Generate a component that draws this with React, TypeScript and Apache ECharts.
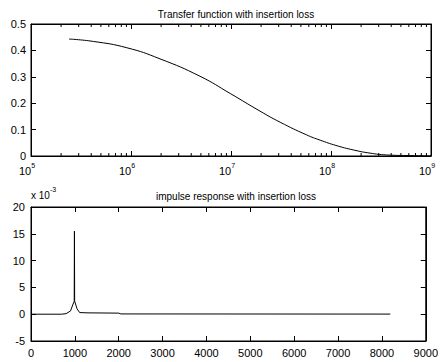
import React, { useEffect, useRef } from "react";
import * as echarts from "echarts";

const titleTop = "Transfer function with insertion loss";
const titleBottom = "impulse response with insertion loss";

// Top: transfer function magnitude vs frequency (Hz)
const freqHz = [2.4e5, 4.2e5, 9.1e5, 1.95e6, 4.9e6, 9.8e6, 1.95e7, 3.1e7, 5.7e7, 7.8e7, 1.12e8, 1.67e8, 2.45e8, 3.6e8, 6.3e8, 1e9];
const transferMag = [0.443, 0.434, 0.41, 0.368, 0.302, 0.237, 0.17, 0.128, 0.08, 0.06, 0.04, 0.023, 0.011, 0.004, 0.0015, 0.0005];

// Bottom: impulse response (units of 1e-3) vs sample index
const sampleIdx = [0, 700, 800, 900, 960, 985, 990, 995, 1000, 1050, 1110, 1300, 2000, 2050, 8192];
const impulseVal = [0, 0, 0.1, 0.6, 1.9, 2.4, 15.5, 2.5, 2.3, 1.0, 0.3, 0.25, 0.2, 0.05, 0.02];

const topYTicks = [0, 0.1, 0.2, 0.3, 0.4, 0.5];
const bottomYTicks = [-5, 0, 5, 10, 15, 20];
const decades = [5, 6, 7, 8];
const mantissas = [2, 3, 4, 5, 6, 7, 8, 9];

const FONT = "'Liberation Sans', Arial, Helvetica, sans-serif";

export default function App() {
  const ref = useRef<HTMLDivElement>(null);

  useEffect(() => {
    if (!ref.current) return;
    const chart = echarts.init(ref.current, undefined, { renderer: "svg" });

    const minorTicks: number[][] = [];
    decades.forEach((d) => mantissas.forEach((m) => minorTicks.push([m * Math.pow(10, d), 0])));

    const grids = [
      { left: 31, top: 24, width: 400, height: 132, show: true, borderColor: "#000", borderWidth: 1, backgroundColor: "transparent" },
      { left: 31, top: 207, width: 400, height: 134, show: true, borderColor: "#000", borderWidth: 1, backgroundColor: "transparent" },
    ];

    const axisLine = { show: true, onZero: false, lineStyle: { color: "#000", width: 1 } };
    const tick = { show: true, inside: true, length: 5, lineStyle: { color: "#000", width: 1 } };
    const label = { color: "#000", fontFamily: FONT, fontSize: 11 };

    const option: any = {
      animation: false,
      backgroundColor: "#fff",
      title: [
        { text: titleTop, left: 231, top: 4, textAlign: "center", textStyle: { fontFamily: FONT, fontSize: 10, fontWeight: "normal", color: "#000" } },
        { text: titleBottom, left: 231, top: 186, textAlign: "center", textStyle: { fontFamily: FONT, fontSize: 10, fontWeight: "normal", color: "#000" } },
      ],
      grid: grids,
      xAxis: [
        {
          type: "log", logBase: 10, gridIndex: 0, min: 1e5, max: 1e9, splitNumber: 4,
          axisLine, axisTick: tick, splitLine: { show: false },
          axisLabel: {
            ...label, margin: 6, showMinLabel: true, showMaxLabel: true, padding: [0, 8, 0, 0],
            formatter: (v: number) => `{b|10}{s|${Math.round(Math.log10(v))}}`,
            rich: {
              b: { fontFamily: FONT, fontSize: 11, color: "#000", lineHeight: 14, verticalAlign: "bottom" },
              s: { fontFamily: FONT, fontSize: 7, color: "#000", lineHeight: 8, verticalAlign: "top" },
            },
          },
        },
        {
          type: "log", logBase: 10, gridIndex: 0, min: 1e5, max: 1e9, splitNumber: 4, position: "top",
          axisLine, axisTick: tick, axisLabel: { show: false }, splitLine: { show: false },
        },
        {
          type: "value", gridIndex: 1, min: 0, max: 9000, interval: 1000,
          axisLine, axisTick: tick, splitLine: { show: false },
          axisLabel: { ...label, margin: 6, showMinLabel: true, showMaxLabel: true, formatter: (v: number) => String(v) },
        },
        {
          type: "value", gridIndex: 1, min: 0, max: 9000, interval: 1000, position: "top",
          axisLine, axisTick: tick, axisLabel: { show: false }, splitLine: { show: false },
        },
      ],
      yAxis: [
        {
          type: "value", gridIndex: 0, min: topYTicks[0], max: topYTicks[topYTicks.length - 1], interval: 0.1,
          axisLine, axisTick: tick, splitLine: { show: false },
          axisLabel: { ...label, margin: 5, formatter: (v: number) => (v === 0 ? "0" : v.toFixed(1)) },
        },
        {
          type: "value", gridIndex: 0, min: 0, max: 0.5, interval: 0.1, position: "right",
          axisLine, axisTick: tick, axisLabel: { show: false }, splitLine: { show: false },
        },
        {
          type: "value", gridIndex: 1, min: bottomYTicks[0], max: bottomYTicks[bottomYTicks.length - 1], interval: 5,
          axisLine, axisTick: tick, splitLine: { show: false },
          axisLabel: { ...label, margin: 6, formatter: (v: number) => String(v) },
        },
        {
          type: "value", gridIndex: 1, min: -5, max: 20, interval: 5, position: "right",
          axisLine, axisTick: tick, axisLabel: { show: false }, splitLine: { show: false },
        },
      ],
      graphic: [
        {
          type: "text", left: 31, top: 186,
          style: {
            text: "{a|x 10}{e|-3}",
            rich: {
              a: { fontFamily: FONT, fontSize: 10, fill: "#000", lineHeight: 14, verticalAlign: "bottom" },
              e: { fontFamily: FONT, fontSize: 7, fill: "#000", lineHeight: 8, verticalAlign: "top" },
            },
          },
        },
      ],
      series: [
        {
          type: "line", xAxisIndex: 0, yAxisIndex: 0, smooth: 0.5, symbol: "none",
          lineStyle: { color: "#000", width: 1 },
          data: freqHz.map((f, i) => [f, transferMag[i]]),
        },
        {
          type: "custom", xAxisIndex: 0, yAxisIndex: 0, silent: true,
          data: minorTicks,
          renderItem: (_p: any, api: any) => {
            const x = api.value(0);
            const pb = api.coord([x, 0]);
            const pt = api.coord([x, 0.5]);
            const st = { stroke: "#000", lineWidth: 1 };
            return {
              type: "group",
              children: [
                { type: "line", shape: { x1: pb[0], y1: pb[1], x2: pb[0], y2: pb[1] - 3 }, style: st },
                { type: "line", shape: { x1: pt[0], y1: pt[1], x2: pt[0], y2: pt[1] + 3 }, style: st },
              ],
            };
          },
        },
        {
          type: "line", xAxisIndex: 2, yAxisIndex: 2, symbol: "none",
          lineStyle: { color: "#000", width: 1 },
          data: sampleIdx.map((t, i) => [t, impulseVal[i]]),
        },
      ],
    };

    chart.setOption(option);
    return () => chart.dispose();
  }, []);

  return <div ref={ref} style={{ position: "absolute", left: 0, top: 0, width: 441, height: 362 }} />;
}
